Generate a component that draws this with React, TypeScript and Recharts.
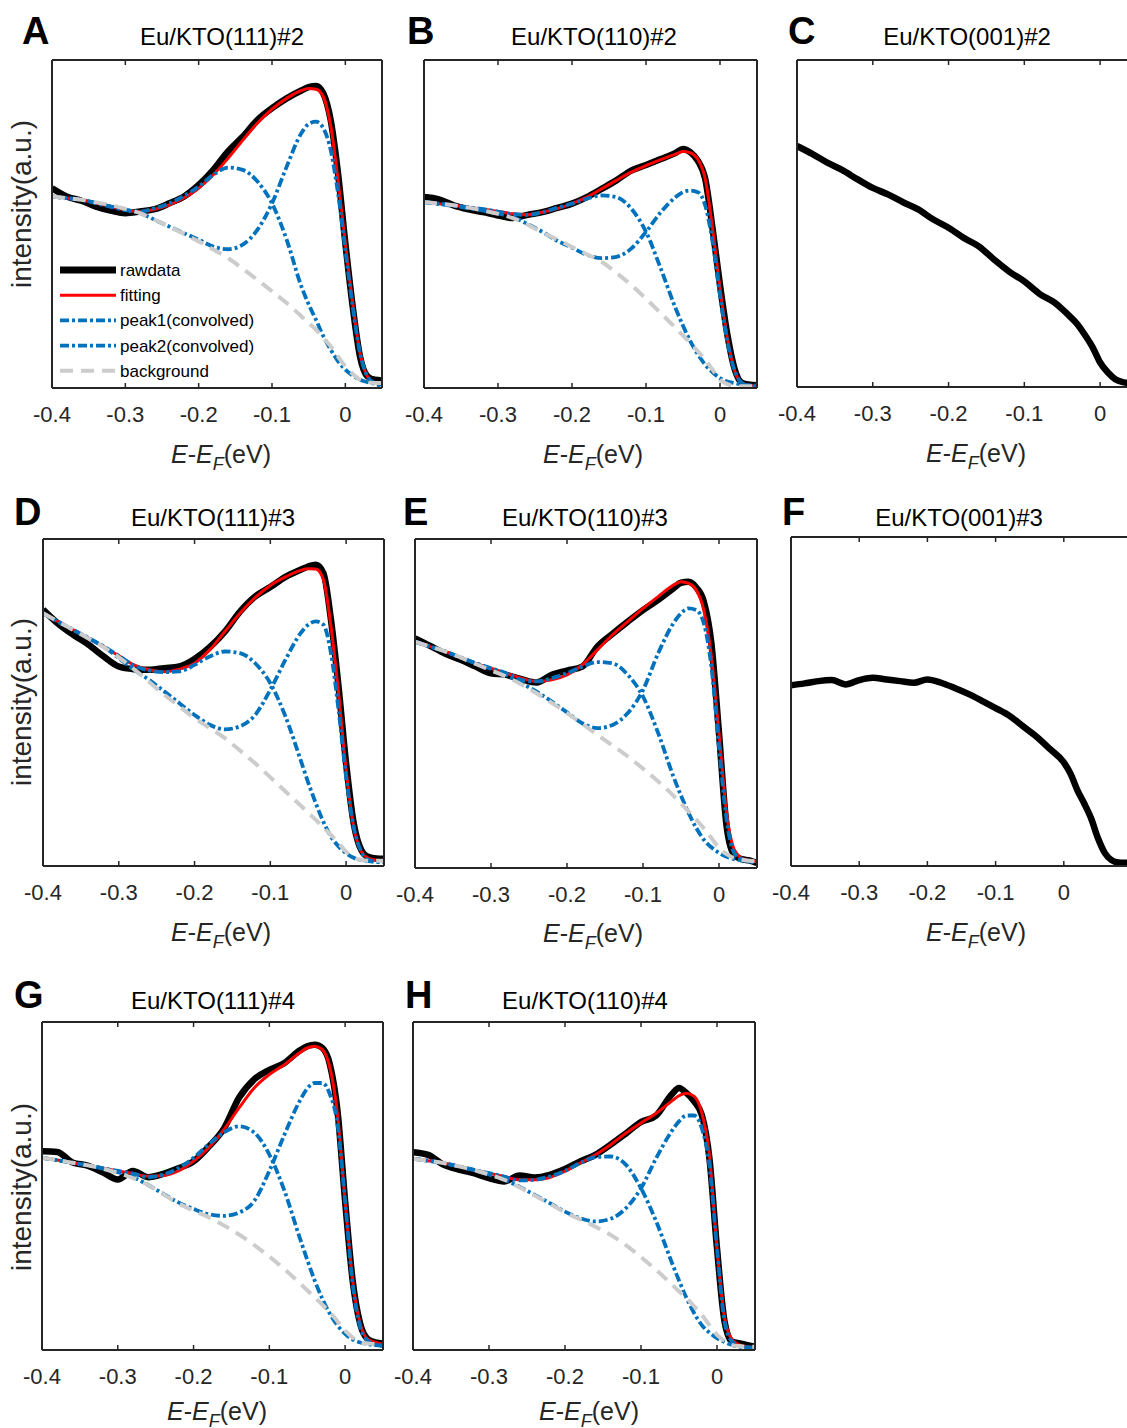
import { LineChart, Line, XAxis, YAxis, Legend } from 'recharts'

const FONT = '"Liberation Sans", Arial, Helvetica, sans-serif'
const INK = '#262626'
const BLUE = '#0072BD'
const GRAY = '#CCCCCC'
const DASHDOT = '9 3 3 3'
const DASHED = '13 8'

// energy grids (eV), finer close to E_F
const energy = [-0.4, -0.38, -0.36, -0.34, -0.32, -0.3, -0.28, -0.26, -0.24, -0.22, -0.2, -0.18, -0.16, -0.14, -0.12, -0.1, -0.08, -0.06, -0.05, -0.04, -0.03, -0.02, -0.01, 0, 0.01, 0.02, 0.03, 0.04, 0.05]
const energyF = [-0.4, -0.38, -0.36, -0.34, -0.32, -0.3, -0.28, -0.26, -0.24, -0.22, -0.2, -0.18, -0.16, -0.14, -0.12, -0.1, -0.08, -0.06, -0.04, -0.02, 0, 0.01, 0.02, 0.03, 0.04, 0.05, 0.06, 0.07, 0.08, 0.09, 0.1]
const xTicks = [-0.4, -0.3, -0.2, -0.1, 0]

// A  Eu/KTO(111)#2
const rawA = [60.9, 58.4, 57.1, 55.3, 54.1, 53.3, 53.8, 54.5, 56.3, 58.4, 61.9, 66.5, 72.1, 76.6, 81.7, 85.3, 88.3, 90.7, 91.7, 92.1, 89.8, 81.7, 65.5, 44.2, 24.9, 9.6, 3.6, 2.5, 2.3]
const fitA = [58.4, 57.9, 57.4, 56.4, 55.3, 54.3, 53.8, 54.5, 55.8, 58.0, 60.9, 65.0, 70.0, 75.5, 80.7, 85.0, 88.3, 90.7, 91.3, 91.1, 88.8, 80.0, 63.5, 44.2, 25.9, 10.7, 3.6, 1.5, 1.0]
const peak1A = [58.4, 57.9, 57.4, 56.4, 55.3, 54.3, 53.8, 54.8, 56.3, 58.6, 61.4, 65.0, 67.2, 66.5, 63.0, 56.3, 45.2, 31.0, 25.5, 20.8, 15.8, 11.7, 8.2, 5.6, 3.8, 2.5, 1.8, 1.3, 1.0]
const peak2A = [58.4, 57.9, 57.4, 56.4, 55.3, 54.3, 53.3, 51.3, 49.2, 47.2, 45.2, 43.1, 42.3, 43.7, 48.2, 56.3, 67.5, 77.7, 80.5, 81.2, 79.2, 72.6, 59.4, 42.1, 24.9, 10.7, 3.6, 1.5, 0.5]
const bgA = [58.4, 57.9, 57.4, 56.6, 55.8, 54.6, 53.3, 51.3, 49.2, 47.0, 44.7, 42.2, 39.6, 36.4, 33.0, 29.5, 25.9, 21.9, 19.8, 17.8, 15.2, 12.7, 9.6, 6.6, 4.3, 2.5, 1.8, 1.5, 1.5]

// B  Eu/KTO(110)#2
const rawB = [58.2, 57.5, 55.7, 54.5, 53.6, 52.6, 51.8, 52.8, 53.6, 54.9, 56.2, 58.2, 60.7, 63.3, 66.3, 68.0, 69.8, 71.7, 72.9, 71.9, 69.3, 63.8, 48.6, 31.4, 16.2, 5.6, 1.5, 1.0, 0.8]
const fitB = [56.7, 56.2, 55.7, 55.1, 54.5, 53.8, 53.1, 52.8, 53.6, 54.7, 56.2, 58.2, 60.7, 63.3, 65.8, 67.8, 69.6, 71.3, 72.1, 71.7, 69.8, 63.8, 48.6, 30.4, 15.2, 5.1, 1.5, 0.8, 0.5]
const peak1B = [56.7, 56.2, 55.7, 55.1, 54.5, 53.8, 53.0, 52.8, 53.6, 54.9, 56.2, 57.7, 58.7, 58.2, 54.7, 47.6, 36.4, 24.3, 19.0, 14.2, 10.3, 7.1, 4.8, 3.0, 2.0, 1.5, 1.0, 0.8, 0.8]
const peak2B = [56.7, 56.1, 55.5, 54.8, 54.1, 53.2, 52.1, 50.0, 47.6, 44.9, 42.8, 40.6, 39.6, 40.0, 42.5, 47.6, 53.6, 58.2, 59.7, 60.2, 59.7, 55.7, 44.5, 28.3, 14.2, 5.1, 1.5, 0.7, 0.5]
const bgB = [56.7, 56.2, 55.7, 55.0, 54.1, 53.1, 51.8, 49.8, 47.4, 45.3, 43.0, 40.8, 38.5, 35.1, 31.4, 27.2, 22.8, 18.3, 16.0, 13.7, 11.2, 8.6, 5.6, 2.5, 1.2, 0.5, 0.5, 0.5, 0.5]

// C  Eu/KTO(001)#2
const rawC = [73.7, 71.3, 68.6, 66.3, 63.5, 60.9, 58.9, 56.5, 54.3, 51.2, 48.7, 45.6, 43.0, 39.0, 35.3, 32.3, 28.5, 25.8, 23.8, 21.6, 19.2, 15.9, 12.2, 7.5, 4.5, 2.4, 1.5, 1.2, 1.2]

// D  Eu/KTO(111)#3
const rawD = [78.4, 74.1, 70.7, 67.7, 64.1, 61.0, 60.2, 60.0, 60.5, 61.0, 63.3, 66.9, 71.7, 77.8, 82.4, 85.3, 88.4, 90.6, 91.6, 92.1, 89.6, 75.3, 54.9, 31.4, 13.1, 4.9, 2.7, 2.3, 2.2]
const fitD = [77.3, 74.7, 72.2, 69.7, 67.1, 64.3, 61.5, 60.0, 59.4, 60.2, 62.0, 66.1, 71.7, 77.3, 82.1, 85.8, 88.4, 90.4, 90.9, 90.8, 87.6, 73.3, 52.9, 29.4, 12.0, 4.4, 2.3, 1.8, 1.6]
const peak1D = [77.3, 74.7, 72.2, 69.7, 67.1, 64.3, 61.3, 59.8, 59.3, 59.5, 61.5, 64.1, 65.6, 65.1, 62.0, 55.9, 45.7, 32.4, 25.5, 19.2, 13.5, 9.0, 6.0, 3.9, 2.5, 1.8, 1.5, 1.3, 1.3]
const peak2D = [77.3, 74.7, 72.2, 69.7, 67.1, 63.6, 60.0, 56.9, 53.4, 49.8, 46.2, 43.2, 41.8, 42.7, 46.2, 53.9, 63.1, 71.2, 73.8, 74.8, 73.8, 65.1, 47.8, 27.3, 12.0, 4.4, 1.8, 1.3, 1.2]
const bgD = [77.3, 74.7, 72.2, 69.6, 66.9, 63.8, 60.2, 56.3, 52.4, 48.8, 45.2, 42.2, 39.1, 35.3, 31.4, 27.1, 22.8, 18.5, 16.3, 14.1, 11.8, 9.5, 7.0, 4.4, 2.6, 1.8, 1.6, 1.6, 1.6]

// E  Eu/KTO(110)#3
const rawE = [69.8, 67.5, 65.1, 63.3, 61.2, 59.2, 58.7, 57.4, 56.4, 58.7, 60.0, 61.2, 67.3, 71.2, 74.9, 78.4, 81.5, 85.0, 86.7, 87.0, 85.3, 81.0, 68.3, 41.0, 12.7, 4.0, 2.7, 2.3, 1.5]
const fitE = [68.8, 67.3, 65.8, 64.0, 62.2, 60.7, 59.2, 57.7, 56.7, 57.2, 58.7, 61.7, 66.3, 70.9, 74.9, 78.9, 82.5, 86.0, 87.0, 86.5, 84.5, 78.4, 64.3, 41.0, 16.7, 5.6, 3.0, 2.3, 2.0]
const peak1E = [68.8, 67.3, 65.8, 64.0, 62.2, 60.7, 59.2, 57.2, 56.7, 57.7, 59.2, 61.2, 62.6, 62.2, 58.7, 52.1, 41.0, 27.8, 22.0, 16.7, 12.2, 8.6, 6.3, 4.6, 3.4, 2.7, 2.3, 2.1, 2.0]
const peak2E = [68.8, 67.3, 65.8, 64.0, 62.2, 60.5, 58.7, 56.2, 53.6, 50.6, 47.3, 44.0, 42.5, 43.5, 47.1, 54.1, 65.3, 74.4, 77.4, 78.9, 78.4, 74.4, 61.2, 36.9, 14.7, 4.6, 2.7, 2.0, 1.5]
const bgE = [68.8, 67.3, 65.8, 64.0, 62.0, 60.1, 58.2, 55.8, 53.1, 50.2, 47.1, 43.8, 40.5, 37.2, 33.9, 30.2, 26.3, 22.0, 19.6, 17.2, 14.7, 12.1, 9.1, 6.1, 4.2, 3.0, 2.5, 2.2, 2.0]

// F  Eu/KTO(001)#3
const rawF = [54.9, 55.5, 56.2, 56.5, 55.2, 56.5, 57.2, 56.7, 56.2, 55.7, 56.7, 55.7, 54.1, 52.3, 50.2, 48.0, 45.7, 42.5, 39.3, 35.5, 31.5, 28.0, 23.0, 19.0, 14.5, 8.5, 4.0, 1.8, 1.1, 1.0, 1.0]

// G  Eu/KTO(111)#4
const rawG = [60.6, 60.4, 57.2, 56.2, 54.2, 52.0, 54.6, 52.7, 53.7, 55.4, 57.5, 62.0, 67.5, 76.9, 82.5, 85.4, 87.5, 91.3, 92.6, 93.1, 92.1, 87.0, 72.8, 45.4, 21.1, 7.9, 3.3, 2.3, 2.0]
const fitG = [58.6, 57.9, 57.1, 56.3, 55.4, 54.6, 53.8, 53.0, 53.2, 54.6, 57.6, 61.7, 67.2, 73.8, 79.9, 84.0, 87.0, 90.6, 92.1, 92.6, 91.6, 86.0, 71.8, 45.4, 21.1, 7.9, 3.3, 2.3, 1.8]
const peak1G = [58.6, 57.9, 57.1, 56.3, 55.4, 54.6, 53.8, 52.7, 53.5, 55.4, 58.6, 62.7, 66.3, 68.2, 66.3, 59.6, 48.5, 34.3, 27.5, 21.1, 15.6, 11.0, 7.5, 4.9, 3.2, 2.3, 1.8, 1.5, 1.3]
const peak2G = [58.6, 57.9, 57.1, 56.3, 55.4, 54.2, 52.7, 50.3, 47.6, 45.0, 43.0, 41.4, 40.9, 41.9, 45.4, 54.6, 65.7, 75.9, 79.7, 81.4, 81.4, 77.9, 68.8, 45.4, 20.1, 6.9, 2.8, 1.6, 1.3]
const bgG = [58.6, 57.9, 57.1, 56.3, 55.3, 54.0, 52.4, 50.3, 47.5, 44.7, 42.5, 40.5, 38.0, 35.2, 32.0, 28.5, 24.6, 20.4, 18.2, 16.0, 13.8, 11.5, 8.7, 5.9, 3.8, 2.3, 2.0, 1.8, 1.8]

// H  Eu/KTO(110)#4
const rawH = [60.3, 59.5, 56.5, 55.0, 53.9, 52.4, 51.4, 53.2, 52.6, 53.4, 55.2, 57.5, 59.5, 62.6, 66.0, 69.5, 71.5, 77.8, 79.9, 78.3, 75.8, 71.7, 58.5, 31.0, 8.6, 2.5, 2.0, 1.5, 1.0]
const fitH = [58.3, 57.7, 57.0, 56.0, 54.9, 53.9, 52.9, 51.9, 51.9, 52.6, 54.5, 57.0, 59.5, 62.6, 66.1, 69.2, 72.2, 75.8, 77.5, 78.3, 77.3, 72.3, 59.5, 31.0, 9.7, 3.1, 1.5, 1.0, 0.7]
const peak1H = [58.3, 57.7, 57.0, 56.0, 54.9, 53.9, 52.9, 51.7, 51.9, 52.9, 54.6, 57.0, 58.8, 59.0, 56.5, 49.3, 39.2, 27.0, 21.2, 15.8, 11.2, 7.6, 5.3, 3.6, 2.4, 1.5, 1.0, 0.8, 0.7]
const peak2H = [58.3, 57.7, 57.0, 56.0, 54.9, 53.5, 51.9, 49.8, 47.3, 44.8, 42.2, 40.2, 39.2, 40.0, 43.2, 49.3, 58.5, 66.6, 69.7, 71.5, 71.5, 67.6, 56.5, 31.0, 8.6, 2.5, 1.2, 0.8, 0.7]
const bgH = [58.3, 57.7, 57.0, 56.0, 54.9, 53.5, 51.9, 49.6, 47.1, 44.6, 42.0, 39.8, 37.6, 35.1, 32.0, 28.3, 24.4, 20.1, 17.9, 15.8, 13.3, 10.7, 7.6, 4.6, 2.8, 1.5, 1.2, 1.0, 1.0]

const legendItems = [
  { name: 'rawdata', stroke: '#000', width: 7, dash: undefined },
  { name: 'fitting', stroke: '#ff0000', width: 3, dash: undefined },
  { name: 'peak1(convolved)', stroke: BLUE, width: 3.8, dash: DASHDOT },
  { name: 'peak2(convolved)', stroke: BLUE, width: 3.8, dash: DASHDOT },
  { name: 'background', stroke: GRAY, width: 4, dash: DASHED },
]

const panels = [
  { id: 'A', title: 'Eu/KTO(111)#2', tx: 222, ty: 45, lx: 22, box: { left: 52, top: 60, width: 330, height: 328 }, xMax: 0.05, e: energy, raw: rawA, fit: fitA, p1: peak1A, p2: peak2A, bg: bgA, xl: 221, xy: 463, legend: true, ylab: 204 },
  { id: 'B', title: 'Eu/KTO(110)#2', tx: 594, ty: 45, lx: 407, box: { left: 424, top: 60, width: 333, height: 328 }, xMax: 0.05, e: energy, raw: rawB, fit: fitB, p1: peak1B, p2: peak2B, bg: bgB, xl: 593, xy: 463 },
  { id: 'C', title: 'Eu/KTO(001)#2', tx: 967, ty: 45, lx: 788, box: { left: 797, top: 60, width: 341, height: 327 }, xMax: 0.05, e: energy, raw: rawC, xl: 976, xy: 462 },
  { id: 'D', title: 'Eu/KTO(111)#3', tx: 213, ty: 526, lx: 14, box: { left: 43, top: 539, width: 341, height: 327 }, xMax: 0.05, e: energy, raw: rawD, fit: fitD, p1: peak1D, p2: peak2D, bg: bgD, xl: 221, xy: 941, ylab: 702 },
  { id: 'E', title: 'Eu/KTO(110)#3', tx: 585, ty: 526, lx: 403, box: { left: 415, top: 539, width: 342, height: 329 }, xMax: 0.05, e: energy, raw: rawE, fit: fitE, p1: peak1E, p2: peak2E, bg: bgE, xl: 593, xy: 942 },
  { id: 'F', title: 'Eu/KTO(001)#3', tx: 959, ty: 526, lx: 782, box: { left: 791, top: 537, width: 341, height: 329 }, xMax: 0.1, e: energyF, raw: rawF, xl: 976, xy: 941 },
  { id: 'G', title: 'Eu/KTO(111)#4', tx: 213, ty: 1009, lx: 14, box: { left: 42, top: 1022, width: 341, height: 328 }, xMax: 0.05, e: energy, raw: rawG, fit: fitG, p1: peak1G, p2: peak2G, bg: bgG, xl: 217, xy: 1420, ylab: 1187 },
  { id: 'H', title: 'Eu/KTO(110)#4', tx: 585, ty: 1009, lx: 405, box: { left: 413, top: 1022, width: 342, height: 328 }, xMax: 0.05, e: energy, raw: rawH, fit: fitH, p1: peak1H, p2: peak2H, bg: bgH, xl: 589, xy: 1420 },
]

const PAD = 10
const LEFT = 30
const BOTTOM = 50
const frame = { stroke: INK, strokeWidth: 2 }

function LegendBox() {
  return (
    <svg width={230} height={130}>
      {legendItems.map((it, i) => (
        <g key={it.name}>
          <line x1={0} x2={56} y1={12 + i * 25.2} y2={12 + i * 25.2} stroke={it.stroke} strokeWidth={it.width} strokeDasharray={it.dash} />
          <text x={60} y={12 + i * 25.2} dy={6} fontSize={17} fontFamily={FONT} fill="#000">{it.name}</text>
        </g>
      ))}
    </svg>
  )
}

function Panel({ p }: { p: any }) {
  const { box } = p
  const W = box.width + LEFT + PAD
  const H = box.height + PAD + BOTTOM
  const bottom = PAD + box.height
  const data = p.e.map((e: number, i: number) => ({
    e,
    raw: p.raw[i],
    fit: p.fit ? p.fit[i] : null,
    p1: p.p1 ? p.p1[i] : null,
    p2: p.p2 ? p.p2[i] : null,
    bg: p.bg ? p.bg[i] : null,
  }))
  const bottomTick = (t: any) => (
    <g>
      <line x1={t.x} x2={t.x} y1={bottom} y2={bottom - 5} stroke={INK} strokeWidth={1.5} />
      <text x={t.x} y={bottom + 34} textAnchor="middle" fontSize={22} fontFamily={FONT} fill={INK}>{String(t.payload.value)}</text>
    </g>
  )
  const topTick = (t: any) => (
    <line x1={t.x} x2={t.x} y1={PAD} y2={PAD + 5} stroke={INK} strokeWidth={1.5} />
  )
  return (
    <div style={{ position: 'absolute', left: box.left - LEFT, top: box.top - PAD }}>
      <LineChart width={W} height={H} data={data} margin={{ top: 0, right: 0, bottom: 0, left: 0 }}>
        <XAxis dataKey="e" type="number" domain={[-0.4, p.xMax]} allowDataOverflow ticks={xTicks} interval={0}
          height={BOTTOM} tickSize={0} tickMargin={0} tickLine={false} axisLine={frame} tick={bottomTick} />
        <XAxis xAxisId="top" orientation="top" dataKey="e" type="number" domain={[-0.4, p.xMax]} allowDataOverflow ticks={xTicks} interval={0}
          height={PAD} tickSize={0} tickMargin={0} tickLine={false} axisLine={frame} tick={topTick} />
        <YAxis domain={[0, 100]} width={LEFT} tick={false} tickLine={false} axisLine={frame} allowDataOverflow />
        <YAxis yAxisId="r" orientation="right" domain={[0, 100]} width={PAD} tick={false} tickLine={false} axisLine={frame} />
        <Line dataKey="raw" type="monotone" stroke="#000" strokeWidth={6.5} strokeLinejoin="round" dot={false} isAnimationActive={false} />
        {p.fit && <Line dataKey="fit" type="monotone" stroke="#ff0000" strokeWidth={3} dot={false} isAnimationActive={false} />}
        {p.p1 && <Line dataKey="p1" type="monotone" stroke={BLUE} strokeWidth={3.8} strokeDasharray={DASHDOT} dot={false} isAnimationActive={false} />}
        {p.p2 && <Line dataKey="p2" type="monotone" stroke={BLUE} strokeWidth={3.8} strokeDasharray={DASHDOT} dot={false} isAnimationActive={false} />}
        {p.bg && <Line dataKey="bg" type="monotone" stroke={GRAY} strokeWidth={4} strokeDasharray={DASHED} dot={false} isAnimationActive={false} />}
        {p.legend && (
          <Legend layout="vertical" align="center" verticalAlign="middle" content={() => <LegendBox />}
            wrapperStyle={{ left: LEFT + 8, top: 208, width: 230, height: 130 }} />
        )}
      </LineChart>
    </div>
  )
}

export default function App() {
  return (
    <div style={{ position: 'absolute', left: 0, top: 0, width: 1127, height: 1428, overflow: 'hidden', background: '#fff' }}>
      {panels.map((p) => <Panel key={p.id} p={p} />)}
      <svg width={1127} height={1428} style={{ position: 'absolute', left: 0, top: 0, pointerEvents: 'none' }} fontFamily={FONT}>
        {panels.map((p) => (
          <g key={p.id}>
            <text x={p.lx} y={p.ty - 1} fontSize={38} fontWeight="bold" fill="#000">{p.id}</text>
            <text x={p.tx} y={p.ty} fontSize={24} textAnchor="middle" fill="#000">{p.title}</text>
            <text x={p.xl} y={p.xy} fontSize={25} textAnchor="middle" fill={INK}>
              <tspan fontStyle="italic">E</tspan>
              <tspan>-</tspan>
              <tspan fontStyle="italic">E</tspan>
              <tspan fontStyle="italic" fontSize={18} dy={7}>F</tspan>
              <tspan dy={-7}>(eV)</tspan>
            </text>
            {p.ylab && (
              <text x={31} y={p.ylab} fontSize={28} textAnchor="middle" fill={INK} transform={`rotate(-90 31 ${p.ylab})`}>intensity(a.u.)</text>
            )}
          </g>
        ))}
      </svg>
    </div>
  )
}
